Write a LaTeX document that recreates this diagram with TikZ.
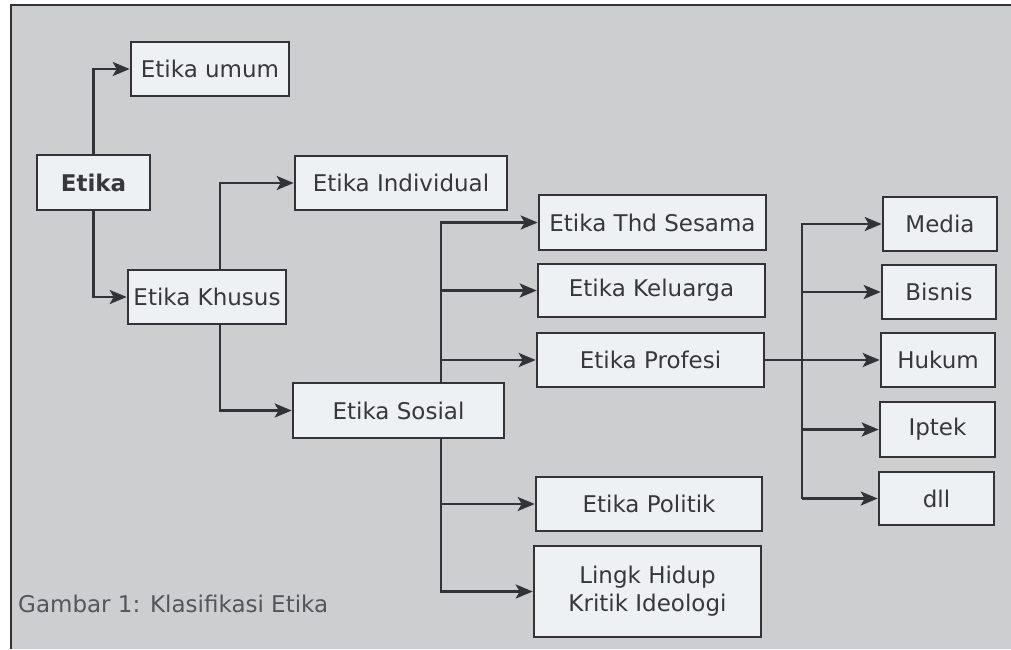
\documentclass[tikz,border=0pt]{standalone}
\usepackage{fontspec}
\setmainfont{DejaVu Sans}
\usetikzlibrary{arrows.meta,calc}
\definecolor{bggray}{RGB}{205,206,207}
\definecolor{boxfill}{RGB}{238,241,244}
\definecolor{ink}{RGB}{50,50,55}
\definecolor{txt}{RGB}{55,55,62}
\definecolor{captink}{RGB}{85,85,90}
\tikzset{
  box/.style={draw=ink, line width=2.6pt, fill=boxfill, rectangle, inner sep=0pt,
    text=txt, font=\fontsize{23}{28}\selectfont, align=center},
  link/.style={draw=ink, line width=2.6pt},
  arr/.style={link, -{Stealth[length=17pt,width=14pt,inset=4pt]}},
}
\begin{document}
\begin{tikzpicture}[x=1pt,y=-1pt]
\useasboundingbox (0,0) rectangle (1011,649);
\fill[white] (0,0) rectangle (1011,649);
\fill[bggray] (11,5) rectangle (1011,649);
\draw[ink, line width=2.6pt] (11,649) -- (11,5) -- (1011,5);

\node[box, minimum width=158pt, minimum height=54pt] (umum) at (210,69) {Etika umum};
\node[box, minimum width=113pt, minimum height=55pt, font=\fontsize{23}{28}\selectfont\bfseries] (etika) at (93.5,182.5) {Etika};
\node[box, minimum width=212pt, minimum height=54pt] (indiv) at (401,183) {Etika Individual};
\node[box, minimum width=158pt, minimum height=54pt] (khusus) at (207,297) {Etika Khusus};
\node[box, minimum width=211pt, minimum height=55pt] (sosial) at (398.5,410.5) {Etika Sosial};
\node[box, minimum width=227pt, minimum height=55pt] (sesama) at (652.5,222.5) {Etika Thd Sesama};
\node[box, minimum width=227pt, minimum height=53pt] (kel) at (651.5,290.5) {Etika Keluarga};
\node[box, minimum width=227pt, minimum height=54pt] (prof) at (650.5,360) {Etika Profesi};
\node[box, minimum width=226pt, minimum height=54pt] (politik) at (649,504) {Etika Politik};
\node[box, minimum width=227pt, minimum height=91pt] (lingk) at (647.5,591.5) {Lingk Hidup\\Kritik Ideologi};
\node[box, minimum width=114pt, minimum height=54pt] (media) at (940,224) {Media};
\node[box, minimum width=114pt, minimum height=54pt] (bisnis) at (939,292) {Bisnis};
\node[box, minimum width=114pt, minimum height=54pt] (hukum) at (938,360) {Hukum};
\node[box, minimum width=115pt, minimum height=55pt] (iptek) at (937.5,429.5) {Iptek};
\node[box, minimum width=115pt, minimum height=53pt] (dll) at (936.5,498.5) {dll};

\node[anchor=base west, text=captink, font=\fontsize{23}{28}\selectfont, inner sep=0pt] (cap) at (18,612) {Gambar 1: Klasifikasi Etika};

% Etika
\draw[arr] (etika.north) |- (umum.west);
\draw[arr] (etika.south) |- (khusus.west);
% Khusus
\coordinate (tK) at ([xshift=13pt]khusus.center);
\draw[arr] (khusus.north -| tK) |- (indiv.west);
\draw[arr] (khusus.south -| tK) |- (sosial.west);
% Sosial
\coordinate (tS) at ([xshift=42.5pt]sosial.center);
\draw[arr] (sosial.north -| tS) |- (sesama.west);
\draw[arr] (kel.west -| tS) -- (kel.west);
\draw[arr] (prof.west -| tS) -- (prof.west);
\draw[arr] (sosial.south -| tS) |- (lingk.west);
\draw[arr] (politik.west -| tS) -- (politik.west);
% Profesi
\coordinate (tP) at (802,360);
\draw[arr] (prof.east) -- (hukum.west);
\draw[arr] (dll.west -| tP) |- (media.west);
\draw[arr] (bisnis.west -| tP) -- (bisnis.west);
\draw[arr] (iptek.west -| tP) -- (iptek.west);
\draw[arr] (dll.west -| tP) -- (dll.west);
\end{tikzpicture}
\end{document}
